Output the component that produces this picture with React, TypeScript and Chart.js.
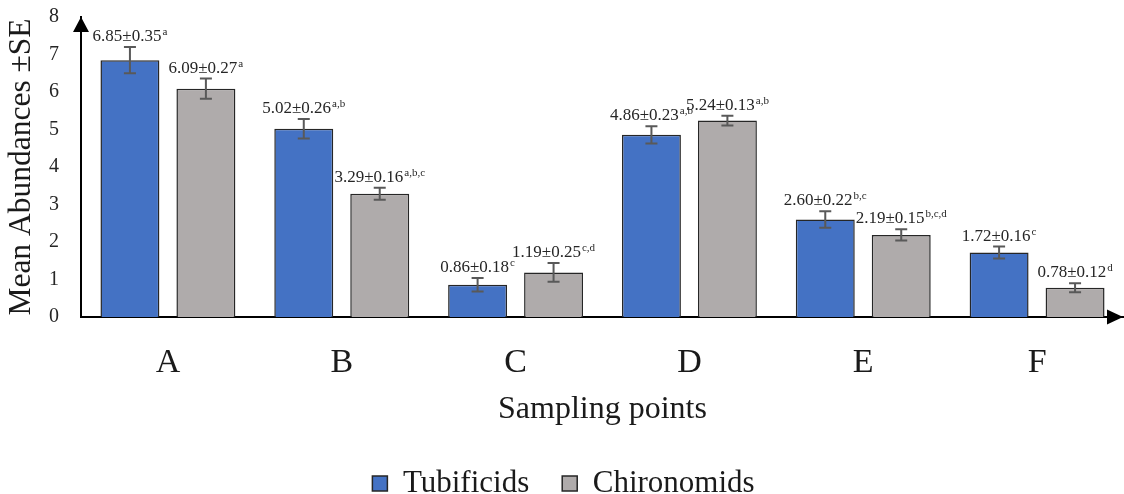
import React, { useEffect, useRef } from 'react';
import { Chart, registerables } from 'chart.js';

Chart.register(...registerables);

const categories = ['A', 'B', 'C', 'D', 'E', 'F'];
const tubificids = [6.85, 5.02, 0.86, 4.86, 2.6, 1.72];
const tubificidsSE = [0.35, 0.26, 0.18, 0.23, 0.22, 0.16];
const tubificidsLetters = ['a', 'a,b', 'c', 'a,b', 'b,c', 'c'];
const chironomids = [6.09, 3.29, 1.19, 5.24, 2.19, 0.78];
const chironomidsSE = [0.27, 0.16, 0.25, 0.13, 0.15, 0.12];
const chironomidsLetters = ['a', 'a,b,c', 'c,d', 'a,b', 'b,c,d', 'd'];
const yTicks = [0, 1, 2, 3, 4, 5, 6, 7, 8];

const FONT = '"Liberation Serif", "Times New Roman", serif';

const annotatePlugin = {
  id: 'annotate',
  afterDatasetsDraw(chart: any) {
    const ctx = chart.ctx;
    const yScale = chart.scales.y;
    chart.data.datasets.forEach((ds: any, di: number) => {
      const meta = chart.getDatasetMeta(di);
      meta.data.forEach((bar: any, i: number) => {
        const v = ds.data[i];
        const se = ds.se[i];
        const x = bar.x;
        const yt = yScale.getPixelForValue(v + se);
        const yb = yScale.getPixelForValue(v - se);
        ctx.save();
        ctx.strokeStyle = '#595959';
        ctx.lineWidth = 2;
        ctx.beginPath();
        ctx.moveTo(x, yt);
        ctx.lineTo(x, yb);
        ctx.moveTo(x - 6, yt);
        ctx.lineTo(x + 6, yt);
        ctx.moveTo(x - 6, yb);
        ctx.lineTo(x + 6, yb);
        ctx.stroke();

        const main = v.toFixed(2) + '±' + se.toFixed(2);
        const sup = ds.letters[i];
        ctx.font = '17px ' + FONT;
        const mw = ctx.measureText(main).width;
        ctx.font = '11px ' + FONT;
        const sw = ctx.measureText(sup).width;
        const left = x - (mw + sw + 1) / 2;
        const base = yt - 6;
        ctx.fillStyle = '#262626';
        ctx.textAlign = 'left';
        ctx.textBaseline = 'alphabetic';
        ctx.font = '17px ' + FONT;
        ctx.fillText(main, left, base);
        ctx.font = '11px ' + FONT;
        ctx.fillText(sup, left + mw + 1, base - 6);
        ctx.restore();
      });
    });
  },
  afterDraw(chart: any) {
    const ctx = chart.ctx;
    const a = chart.chartArea;
    ctx.save();
    ctx.fillStyle = '#000';
    ctx.beginPath();
    ctx.moveTo(a.left, a.top);
    ctx.lineTo(a.left - 8, a.top + 15);
    ctx.lineTo(a.left + 8, a.top + 15);
    ctx.closePath();
    ctx.fill();
    ctx.beginPath();
    ctx.moveTo(a.right - 1, a.bottom);
    ctx.lineTo(a.right - 17, a.bottom - 7.5);
    ctx.lineTo(a.right - 17, a.bottom + 7.5);
    ctx.closePath();
    ctx.fill();
    ctx.restore();
  },
};

export default function App() {
  const canvasRef = useRef<HTMLCanvasElement | null>(null);

  useEffect(() => {
    if (!canvasRef.current) return;
    Chart.defaults.font.family = FONT;
    const chart = new Chart(canvasRef.current, {
      type: 'bar',
      data: {
        labels: categories,
        datasets: [
          {
            label: 'Tubificids',
            data: tubificids,
            se: tubificidsSE,
            letters: tubificidsLetters,
            backgroundColor: '#4472C4',
            borderColor: '#262626',
            borderWidth: 1.5,
            categoryPercentage: 0.874,
            barPercentage: 0.776,
          } as any,
          {
            label: 'Chironomids',
            data: chironomids,
            se: chironomidsSE,
            letters: chironomidsLetters,
            backgroundColor: '#AFABAB',
            borderColor: '#262626',
            borderWidth: 1.5,
            categoryPercentage: 0.874,
            barPercentage: 0.776,
          } as any,
        ],
      },
      options: {
        animation: false,
        responsive: true,
        maintainAspectRatio: false,
        layout: { padding: { left: 3, top: 17, right: 0, bottom: -15 } },
        plugins: {
          tooltip: { enabled: false },
          legend: {
            position: 'bottom',
            labels: {
              font: { size: 31, family: FONT },
              color: '#1a1a1a',
              boxWidth: 15,
              boxHeight: 15,
              padding: 33,
            },
          },
        },
        scales: {
          x: {
            grid: { display: false, drawTicks: false },
            border: { display: true, color: '#000', width: 2 },
            ticks: { padding: 25.6, font: { size: 34, family: FONT }, color: '#1a1a1a' },
            title: {
              display: true,
              text: 'Sampling points',
              font: { size: 32, family: FONT },
              color: '#1a1a1a',
              padding: { top: 5, bottom: 6 },
            },
            afterFit: (scale: any) => {
              scale.height = 118;
            },
          },
          y: {
            min: yTicks[0],
            max: yTicks[yTicks.length - 1],
            grid: { display: false, drawTicks: false },
            border: { display: true, color: '#000', width: 2 },
            ticks: { stepSize: yTicks[1] - yTicks[0], padding: 22, font: { size: 20, family: FONT }, color: '#262626' },
            title: {
              display: true,
              text: 'Mean Abundances ±SE',
              font: { size: 31.5, family: FONT },
              color: '#1a1a1a',
              padding: { top: 0, bottom: 10 },
            },
            afterFit: (scale: any) => {
              scale.width = 78;
              scale.paddingTop = 0;
              scale.paddingBottom = 0;
            },
          },
        },
      },
      plugins: [annotatePlugin],
    });
    return () => chart.destroy();
  }, []);

  return (
    <div style={{ position: 'fixed', left: 0, top: 0, width: 1124, height: 494, background: '#fff' }}>
      <canvas ref={canvasRef} />
    </div>
  );
}
